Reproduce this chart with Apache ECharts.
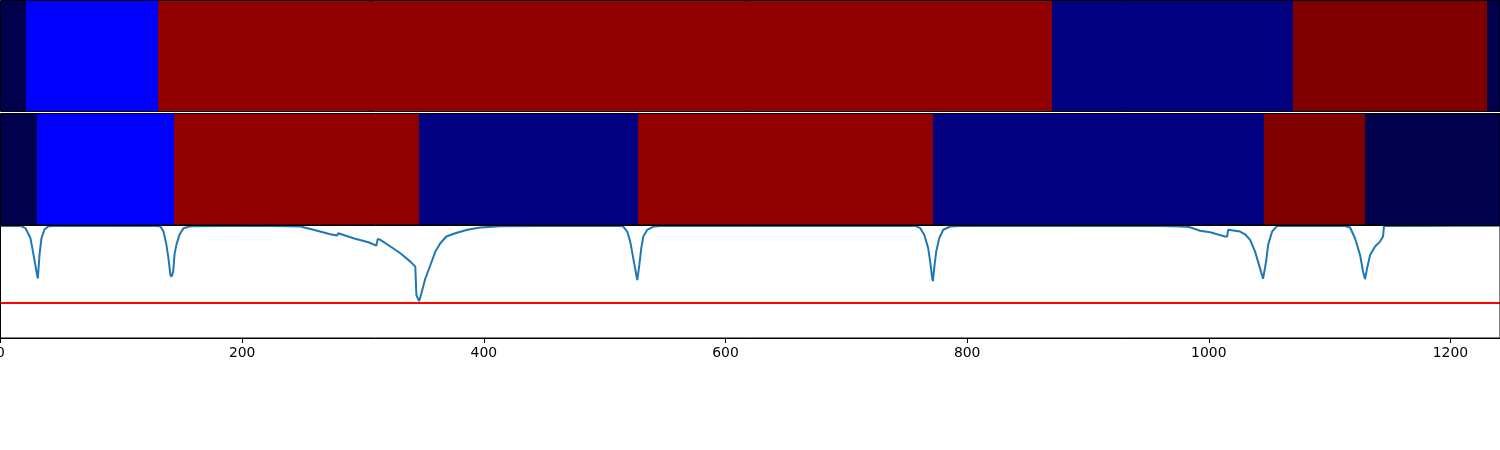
<!DOCTYPE html>
<html>
<head>
<meta charset="utf-8">
<script src="https://cdn.jsdelivr.net/npm/echarts@6/dist/echarts.min.js"></script>
<style>
html,body{margin:0;padding:0;background:#fff;}
#chart{width:1500px;height:450px;}
</style>
</head>
<body>
<div id="chart"></div>
<script>
// ---- data ----
const xMax = 1241;
const xTicks = [0, 200, 400, 600, 800, 1000, 1200];

// band rows: segment edges (x units) and a level (0..1 on the seismic scale) per segment
const topBandEdges  = [0, 20.7, 130.5, 870.4, 1069.7, 1230.3, 1241];
const topBandLevels = [0, 0.25, 0.967, 0.072, 1.0, 0];
const midBandEdges  = [0, 30.6, 143.4, 346.7, 527.6, 771.7, 1045.8, 1129.3, 1241];
const midBandLevels = [0, 0.25, 0.967, 0.072, 0.967, 0.072, 1.0, 0];

// signal trace
const signalX = [0, 16.5, 20.7, 24.8, 27.3, 29.8, 30.9, 32.3, 33.9, 36.4, 39.7, 49.6,
  129.9, 132.4, 134.9, 137.3, 139.0, 140.6, 141.5, 142.9, 144.0, 145.6, 148.1, 151.4, 157.2,
  215.1, 248.2, 259.0, 273.0, 278.6, 279.6, 292.1, 304.5, 311.1, 312.2, 314.4, 322.7, 330.9,
  339.2, 343.3, 344.2, 346.4, 348.3, 351.6, 355.8, 359.9, 364.0, 369.0, 376.4, 386.4, 397.1,
  413.7, 446.8,
  513.0, 515.4, 518.7, 521.2, 523.7, 526.2, 527.0, 528.7, 530.3, 532.0, 535.3, 540.3, 546.0,
  757.0, 761.2, 764.5, 767.8, 769.4, 771.1, 771.7, 772.7, 774.4, 776.9, 780.2, 786.0, 794.2,
  951.4, 976.3, 983.7, 984.5, 992.8, 1001.1, 1006.9, 1013.5, 1015.2, 1016.0, 1025.9, 1030.0,
  1034.2, 1038.3, 1042.4, 1044.9, 1047.4, 1049.1, 1052.4, 1056.5,
  1112.8, 1116.9, 1121.0, 1125.2, 1127.7, 1129.3, 1131.0, 1133.5, 1137.6, 1141.7, 1144.2,
  1145.0, 1241];
const signalY = [0.996, 0.996, 0.976, 0.887, 0.741, 0.589, 0.529, 0.741, 0.887, 0.964, 0.994, 0.997,
  0.996, 0.991, 0.946, 0.830, 0.708, 0.563, 0.545, 0.589, 0.741, 0.830, 0.917, 0.976, 0.994,
  0.997, 0.991, 0.962, 0.922, 0.911, 0.931, 0.887, 0.851, 0.821, 0.881, 0.872, 0.813, 0.753,
  0.679, 0.634, 0.381, 0.328, 0.396, 0.529, 0.649, 0.768, 0.842, 0.902, 0.931, 0.962, 0.982,
  0.994, 0.996,
  0.996, 0.991, 0.946, 0.857, 0.708, 0.560, 0.515, 0.649, 0.797, 0.902, 0.962, 0.991, 0.996,
  0.996, 0.976, 0.917, 0.797, 0.679, 0.529, 0.506, 0.619, 0.768, 0.887, 0.962, 0.991, 0.996,
  0.997, 0.991, 0.987, 0.970, 0.953, 0.940, 0.922, 0.902, 0.902, 0.962, 0.946, 0.922,
  0.872, 0.768, 0.619, 0.527, 0.679, 0.828, 0.946, 0.996,
  0.996, 0.982, 0.887, 0.738, 0.589, 0.524, 0.619, 0.738, 0.813, 0.857, 0.902,
  0.996, 0.997];
const threshold = 0.31;

// ---- build ----
function bandRows(edges, levels) {
  const rows = [];
  for (let i = 0; i < levels.length; i++) rows.push([edges[i], edges[i + 1], levels[i]]);
  return rows;
}
const signal = signalX.map((x, i) => [x, signalY[i]]);

function renderBand(params, api) {
  const p0 = api.coord([api.value(0), 1]);
  const p1 = api.coord([api.value(1), 0]);
  const x0 = Math.round(p0[0]), x1 = Math.round(p1[0]);
  return {
    type: 'rect',
    shape: { x: x0, y: p0[1], width: x1 - x0, height: p1[1] - p0[1] },
    style: { fill: api.visual('color') }
  };
}

const gridBase = { left: 0.5, right: 0, show: true, z: 10, borderColor: '#000', borderWidth: 1,
  backgroundColor: 'transparent', containLabel: false, outerBoundsMode: 'none' };
const hiddenX = (i) => ({ type: 'value', gridIndex: i, min: 0, max: xMax, show: false });
const hiddenY = (i) => ({ type: 'value', gridIndex: i, min: 0, max: 1, show: false });

const chart = echarts.init(document.getElementById('chart'), null, { renderer: 'canvas' });
chart.setOption({
  animation: false,
  backgroundColor: '#fff',
  grid: [
    Object.assign({ top: 0.5, height: 111 }, gridBase),
    Object.assign({ top: 113.5, height: 111.5 }, gridBase),
    Object.assign({ top: 225.5, height: 112.5 }, gridBase)
  ],
  xAxis: [
    hiddenX(0),
    hiddenX(1),
    {
      type: 'value', gridIndex: 2, min: 0, max: xMax,
      axisLine: { show: true, lineStyle: { color: '#000', width: 1 } },
      axisTick: { show: true, length: 5, inside: false, customValues: xTicks, lineStyle: { color: '#000', width: 1 } },
      axisLabel: { show: true, customValues: xTicks, margin: 8, color: '#000', fontSize: 13.9,
        fontFamily: 'DejaVu Sans', formatter: (v) => String(v) },
      splitLine: { show: false }
    }
  ],
  yAxis: [hiddenY(0), hiddenY(1), hiddenY(2)],
  visualMap: {
    show: false,
    type: 'continuous',
    min: 0, max: 1,
    dimension: 2,
    seriesIndex: [0, 1],
    inRange: { color: ['#00004c', '#0000ff', '#ffffff', '#ff0000', '#800000'] }
  },
  series: [
    {
      type: 'custom', xAxisIndex: 0, yAxisIndex: 0,
      renderItem: renderBand,
      encode: { x: [0, 1] },
      data: bandRows(topBandEdges, topBandLevels),
      silent: true
    },
    {
      type: 'custom', xAxisIndex: 1, yAxisIndex: 1,
      renderItem: renderBand,
      encode: { x: [0, 1] },
      data: bandRows(midBandEdges, midBandLevels),
      silent: true
    },
    {
      type: 'line', xAxisIndex: 2, yAxisIndex: 2,
      data: signal,
      showSymbol: false, symbol: 'none',
      lineStyle: { color: '#1f77b4', width: 2 },
      clip: true,
      silent: true,
      markLine: {
        silent: true, symbol: 'none',
        label: { show: false },
        lineStyle: { color: '#ff0000', width: 2, type: 'solid' },
        data: [{ yAxis: threshold }]
      }
    }
  ]
});
</script>
</body>
</html>
